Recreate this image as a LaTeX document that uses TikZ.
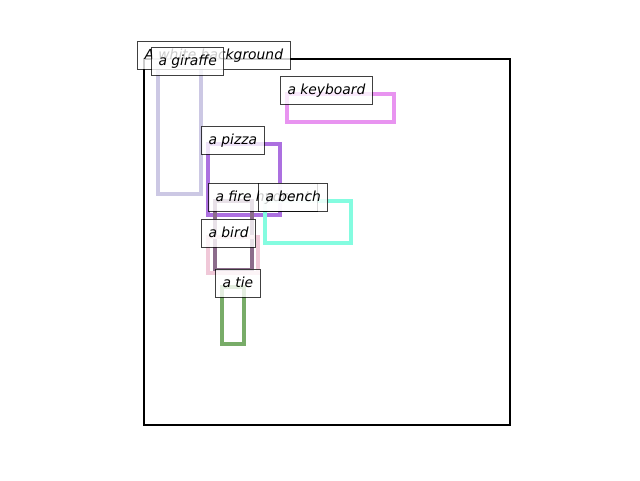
\documentclass[tikz,border=0pt]{standalone}
\usepackage{fontspec}
\setmainfont{DejaVu Sans}
\begin{document}
\begin{tikzpicture}[x=0.75pt,y=-0.75pt,
  obox/.style={line width=2.3pt},
  lbl/.style={draw=black, draw opacity=0.75, fill=white, fill opacity=0.8, text opacity=1,
    line width=0.75pt, inner xsep=5.25pt, inner ysep=0pt,
    text height=13.5pt, text depth=7.5pt, anchor=base west,
    font=\fontsize{10.4pt}{12pt}\selectfont\itshape}]
\useasboundingbox (0,0) rectangle (640,480);
\definecolor{cgir}{HTML}{CCC8E4}
\definecolor{ckey}{HTML}{E894F0}
\definecolor{cpiz}{HTML}{AC70E0}
\definecolor{chyd}{HTML}{8C6C8C}
\definecolor{cben}{HTML}{84FCE0}
\definecolor{cbir}{HTML}{F0C8D8}
\definecolor{ctie}{HTML}{78AC68}
% main square
\draw[line width=1.7pt] (144,59) rectangle (510,425);
% object boxes
\draw[obox,cgir] (158,65) rectangle (201,194);
\draw[obox,ckey] (287,94) rectangle (394,122);
\draw[obox,cpiz] (208,144) rectangle (280,215);
\draw[obox,chyd] (215,201) rectangle (252,270);
\draw[obox,cben] (265,201) rectangle (351,243);
\draw[obox,cbir] (208,237) rectangle (258,273);
\draw[obox,ctie] (222,287) rectangle (244,344);
% labels
\node[lbl] (wb) at (137,59) {A white background};
\node[lbl] (gir) at (151,65) {a giraffe};
\node[lbl] (key) at (280,94) {a keyboard};
\node[lbl] (piz) at (201,144) {a pizza};
\node[lbl] (hyd) at (208,201) {a fire hydrant};
\node[lbl] (ben) at (258,201) {a bench};
\node[lbl] (bir) at (201,237) {a bird};
\node[lbl] (tie) at (215,287) {a tie};
\end{tikzpicture}
\end{document}
